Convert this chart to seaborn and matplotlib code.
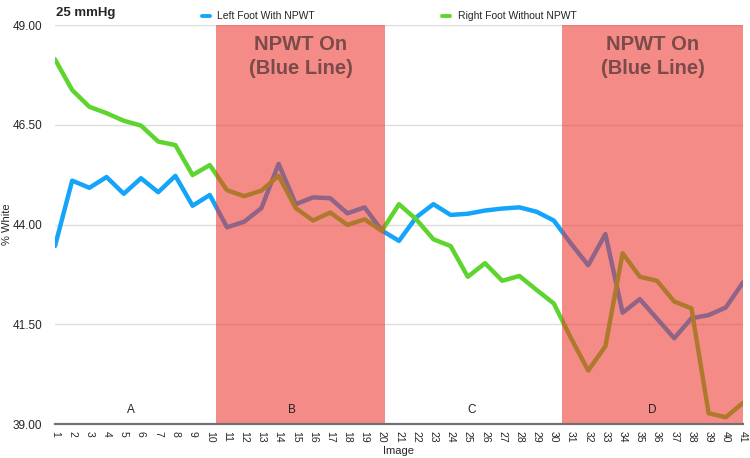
import matplotlib
matplotlib.use("Agg")
import matplotlib.pyplot as plt
import numpy as np
import pandas as pd
import seaborn as sns

images = list(range(1, 42))
left_foot = [43.46, 45.10, 44.92, 45.19, 44.77, 45.16, 44.81, 45.22, 44.47, 44.74,
             43.93, 44.07, 44.41, 45.52, 44.51, 44.68, 44.66, 44.28, 44.43, 43.85,
             43.59, 44.18, 44.51, 44.24, 44.27, 44.35, 44.40, 44.43, 44.32, 44.10,
             43.52, 42.98, 43.76, 41.79, 42.13, 41.64, 41.15, 41.65, 41.73, 41.92,
             42.55]
right_foot = [48.14, 47.37, 46.95, 46.79, 46.60, 46.48, 46.08, 45.99, 45.24, 45.49,
              44.86, 44.71, 44.85, 45.22, 44.41, 44.10, 44.30, 43.99, 44.13, 43.84,
              44.51, 44.13, 43.63, 43.46, 42.69, 43.03, 42.59, 42.71, 42.36, 42.02,
              41.15, 40.34, 40.95, 43.28, 42.69, 42.59, 42.07, 41.90, 39.27, 39.17,
              39.53]
series_names = ["Left Foot With NPWT", "Right Foot Without NPWT"]
phase_labels = ["A", "B", "C", "D"]
phase_centers = [5.4, 14.8, 25.2, 35.7]
npwt_bands = [(10.38, 20.18), (30.5, 41)]
y_ticks = [39.0, 41.5, 44.0, 46.5, 49.0]

df = pd.DataFrame({"Image": images * 2,
                   "value": left_foot + right_foot,
                   "series": [series_names[0]] * 41 + [series_names[1]] * 41})

sns.set_style("white")
plt.rcParams['font.family'] = ['Liberation Sans', 'DejaVu Sans']

fig = plt.figure(figsize=(7.5, 4.58), dpi=100)
ax = fig.add_axes([0.0733, 0.0742, 0.9174, 0.8712])

sns.lineplot(data=df, x="Image", y="value", hue="series",
             palette=["#14A5FB", "#5ED52E"], linewidth=3.2, ax=ax,
             legend=False, zorder=3)

for x0, x1 in npwt_bands:
    ax.axvspan(x0, x1, color="#EE342D", alpha=0.57, lw=0, zorder=4)
    xc = (x0 + x1) / 2
    ax.text(xc, 48.52, "NPWT On", ha="center", va="center",
            fontsize=14.5, fontweight="bold", color="#7A4B48", zorder=5)
    ax.text(xc, 47.9, "(Blue Line)", ha="center", va="center",
            fontsize=14.5, fontweight="bold", color="#7A4B48", zorder=5)

for lab, xc in zip(phase_labels, phase_centers):
    ax.text(xc, 39.36, lab, ha="center", va="center", fontsize=8.5,
            color="#222222", zorder=5)

ax.set_xlim(1, 41)
ax.set_ylim(39, 49)
ax.set_xticks(images)
ax.set_xticklabels([str(i) for i in images], rotation=-90, fontsize=7.5)
ax.set_yticks(y_ticks)
ax.set_yticklabels([f"{v:.2f}" for v in y_ticks], fontsize=8.5)
ax.tick_params(axis="x", length=0, pad=5)
ax.tick_params(axis="y", length=0, pad=9)
ax.yaxis.grid(True, color="#DDDDDD", lw=1, zorder=0)
for s in ["top", "right", "left"]:
    ax.spines[s].set_visible(False)
ax.spines["bottom"].set_color("#707070")
ax.spines["bottom"].set_linewidth(1.6)
ax.spines["bottom"].set_zorder(6)

ax.set_xlabel("Image", fontsize=8)
ax.set_ylabel("% White", fontsize=8)
ax.xaxis.set_label_coords(0.5, -0.055)
ax.yaxis.set_label_coords(-0.063, 0.5)

fig.text(0.075, 0.972, "25 mmHg", fontsize=9.5, fontweight="bold",
         ha="left", va="center")
fig.lines.append(plt.Line2D([0.269, 0.280], [0.966, 0.966], color="#14A5FB",
                            lw=2.8, transform=fig.transFigure))
fig.text(0.289, 0.966, series_names[0], fontsize=7.5, ha="left", va="center")
fig.lines.append(plt.Line2D([0.589, 0.600], [0.966, 0.966], color="#5ED52E",
                            lw=2.8, transform=fig.transFigure))
fig.text(0.610, 0.966, series_names[1], fontsize=7.5, ha="left", va="center")

fig.savefig("out.png", dpi=100)
